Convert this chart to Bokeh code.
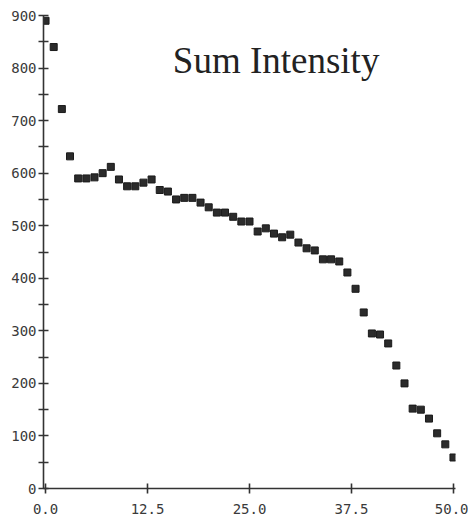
from bokeh.plotting import figure
from bokeh.models import Range1d, FixedTicker, Label
from bokeh.embed import file_html
from bokeh.resources import INLINE

# Data
frame_index = list(range(51))
sum_intensity = [890, 840, 722, 632, 590, 590, 592, 600, 612, 588,
                 575, 575, 582, 588, 568, 565, 550, 553, 553, 544,
                 535, 525, 525, 517, 508, 508, 489, 495, 485, 478,
                 483, 468, 457, 453, 436, 436, 432, 411, 380, 335,
                 295, 293, 276, 234, 200, 152, 150, 133, 105, 84, 59]
x_ticks = [0, 12.5, 25, 37.5, 50]
x_tick_labels = ["0.0", "12.5", "25.0", "37.5", "50.0"]
y_ticks = [0, 100, 200, 300, 400, 500, 600, 700, 800, 900]
y_minor_ticks = [50, 150, 250, 350, 450, 550, 650, 750, 850]
title_text = "Sum Intensity"

p = figure(width=468, height=528, output_backend="svg", toolbar_location=None,
           x_range=Range1d(-0.25, 50.25), y_range=Range1d(0, 900),
           min_border_left=43, min_border_right=13, min_border_top=15,
           min_border_bottom=40)
p.outline_line_color = None
p.background_fill_color = "white"
p.border_fill_color = "white"
p.xgrid.visible = False
p.ygrid.visible = False

axis_color = "#333333"
for ax in (p.xaxis[0], p.yaxis[0]):
    ax.axis_line_color = axis_color
    ax.axis_line_width = 1.6
    ax.major_tick_line_color = axis_color
    ax.major_tick_line_width = 1.6
    ax.minor_tick_line_color = axis_color
    ax.minor_tick_line_width = 1.6
    ax.major_tick_in = 5
    ax.major_tick_out = 5
    ax.minor_tick_in = 5
    ax.minor_tick_out = 5
    ax.major_label_text_font = "DejaVu Sans Mono"
    ax.major_label_text_font_size = "14px"
    ax.major_label_text_color = "#3a3a3a"

p.xaxis[0].ticker = FixedTicker(ticks=x_ticks, minor_ticks=[])
p.xaxis[0].major_label_overrides = {t: l for t, l in zip(x_ticks, x_tick_labels)}
p.xaxis[0].major_label_standoff = 10
p.yaxis[0].ticker = FixedTicker(ticks=y_ticks, minor_ticks=y_minor_ticks)
p.yaxis[0].major_label_standoff = 2

p.scatter(frame_index, sum_intensity, marker="square", size=7,
          fill_color="#2b2b2b", line_color="#1a1a1a", line_width=1)

p.add_layout(Label(x=15.6, y=815, text=title_text, text_font="Liberation Serif",
                   text_font_size="37px", text_color="#222222",
                   text_baseline="alphabetic", text_align="left"))

open("out.html", "w").write(file_html(p, INLINE))
